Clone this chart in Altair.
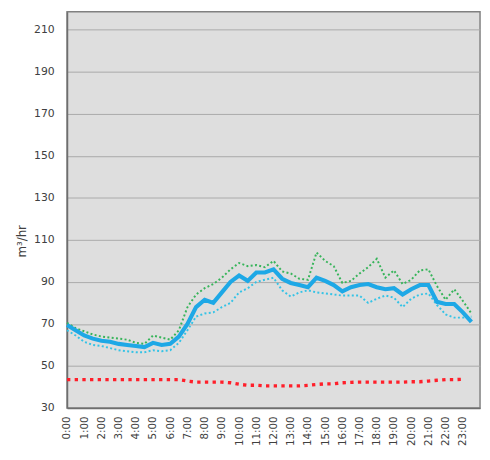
import altair as alt
import pandas as pd

# time of day (30-minute steps)
times = ["0:00", "0:30", "1:00", "1:30", "2:00", "2:30", "3:00", "3:30",
         "4:00", "4:30", "5:00", "5:30", "6:00", "6:30", "7:00", "7:30",
         "8:00", "8:30", "9:00", "9:30", "10:00", "10:30", "11:00", "11:30",
         "12:00", "12:30", "13:00", "13:30", "14:00", "14:30", "15:00", "15:30",
         "16:00", "16:30", "17:00", "17:30", "18:00", "18:30", "19:00", "19:30",
         "20:00", "20:30", "21:00", "21:30", "22:00", "22:30", "23:00", "23:30"]

# main (thick blue) series, m3/hr
mean_flow = [69.5, 67, 64.5, 63, 62, 61.5, 60.5, 60, 59.5, 59, 61, 60, 60.5, 64,
             70, 78, 81.5, 80, 85, 90, 93, 90.5, 94.5, 94.5, 96, 91.5,
             89.5, 88.5, 87.5, 92, 90.5, 88.5, 85.5, 87.5, 88.5, 89, 87.5, 86.5,
             87, 84, 86.5, 88.5, 88.5, 80.5, 79.5, 79.5, 75.5, 71]

# upper (green dotted) series
upper_flow = [70.5, 68, 66.5, 65, 64, 63.5, 63, 62.5, 61, 60.5, 64.5, 63.5, 62.5, 67,
              78, 84, 87, 89, 92, 96, 99, 97.5, 98, 97, 100, 95,
              94, 91.5, 91, 104, 100, 97.5, 89.5, 90.5, 94, 97, 101, 92,
              95.5, 89, 91, 95.5, 96, 88, 81.5, 86.5, 81, 75]

# lower (cyan dotted) series
lower_flow = [67, 64.5, 61.5, 60, 59.5, 58.5, 57.5, 57, 56.5, 56.5, 57.5, 57, 57.5, 61,
              67, 73.5, 75, 75.5, 78, 80, 85, 87, 90, 91, 92, 86,
              83, 85, 86, 85, 84.5, 84, 83.5, 83.5, 83.5, 80, 82, 83.5,
              82.5, 78, 82, 84, 84.5, 79, 74.5, 73, 73, 73.5]

# red dotted series (0:00 - 23:00)
base_flow = [43.5, 43.5, 43.5, 43.5, 43.5, 43.5, 43.5, 43.5, 43.5, 43.5, 43.5, 43.5, 43.5, 43.5,
             42.8, 42.3, 42.3, 42.3, 42.3, 42, 41.3, 40.8, 40.8, 40.5, 40.5, 40.5,
             40.5, 40.5, 40.8, 41.2, 41.5, 41.5, 42, 42.2, 42.3, 42.3, 42.3, 42.3,
             42.3, 42.3, 42.5, 42.5, 42.8, 43.2, 43.5, 43.5, 43.7]

tick_labels = ["0:00", "1:00", "2:00", "3:00", "4:00", "5:00", "6:00", "7:00",
               "8:00", "9:00", "10:00", "11:00", "12:00", "13:00", "14:00", "15:00",
               "16:00", "17:00", "18:00", "19:00", "20:00", "21:00", "22:00", "23:00"]
y_ticks = [30, 50, 70, 90, 110, 130, 150, 170, 190, 210]


def to_hours(t):
    h, m = t.split(":")
    return int(h) + int(m) / 60.0


hours = [to_hours(t) for t in times]
df = pd.DataFrame({"hour": hours, "mean": mean_flow,
                   "upper": upper_flow, "lower": lower_flow})
red_df = pd.DataFrame({"hour": hours[:len(base_flow)], "value": base_flow})

FONT = "DejaVu Sans"

x_enc = alt.X(
    "hour:Q",
    scale=alt.Scale(domain=[0, 24], nice=False, zero=False),
    axis=alt.Axis(
        values=[to_hours(t) for t in tick_labels],
        labelExpr="datum.value + ':00'",
        labelAngle=-90,
        ticks=False,
        grid=False,
        labelPadding=8,
        labelFont=FONT,
        labelFontSize=10.5,
        labelColor="#404040",
        domainColor="#6e6e6e",
        domainWidth=1.5,
        title=None,
    ),
)


def y_enc(field):
    return alt.Y(
        f"{field}:Q",
        scale=alt.Scale(domain=[30, 218.6], nice=False, zero=False),
        axis=alt.Axis(
            values=y_ticks,
            ticks=False,
            grid=True,
            gridColor="#a9a9a9",
            gridWidth=1,
            labelPadding=13,
            labelFont=FONT,
            labelFontSize=11,
            labelColor="#404040",
            domainColor="#6e6e6e",
            domainWidth=1.5,
            title="m³/hr",
            titleFont=FONT,
            titleFontSize=12,
            titleFontWeight="normal",
            titleColor="#404040",
            titleX=-46,
            titleY=233,
            titleAngle=-90,
            titleBaseline="middle",
            titleAlign="center",
        ),
    )


base = alt.Chart(df)

red_line = alt.Chart(red_df).mark_line(
    color="#ff1f2a", strokeWidth=3.4, strokeDash=[3.4, 4.4]
).encode(x=x_enc, y=y_enc("value"))

lower_line = base.mark_line(
    color="#34c3e6", strokeWidth=2, strokeDash=[2, 2.4]
).encode(x=x_enc, y=y_enc("lower"))

upper_line = base.mark_line(
    color="#37b45a", strokeWidth=2, strokeDash=[2, 2.4]
).encode(x=x_enc, y=y_enc("upper"))

mean_line = base.mark_line(
    color="#1ea8e6", strokeWidth=4.2
).encode(x=x_enc, y=y_enc("mean"))

chart = alt.layer(red_line, lower_line, upper_line, mean_line).properties(
    width=420,
    height=403,
    autosize=alt.AutoSizeParams(type="none"),
    padding={"left": 60, "top": 0, "right": 2, "bottom": 40},
    background="white",
).configure_view(
    fill="#dedede",
    stroke="#808080",
    strokeWidth=1.5,
)

chart.save("out.html", embed_options={"renderer": "svg", "actions": False})
